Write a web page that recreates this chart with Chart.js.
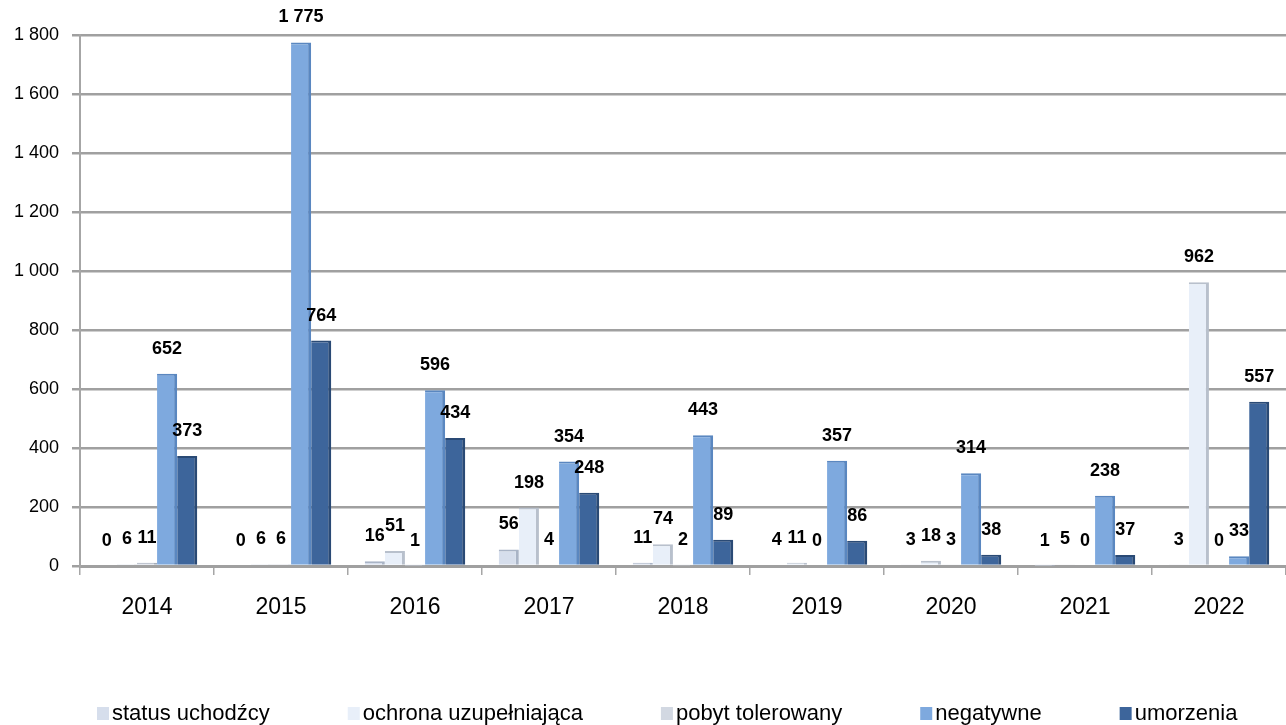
<!DOCTYPE html>
<html>
<head>
<meta charset="utf-8">
<script src="https://cdn.jsdelivr.net/npm/chart.js@4"></script>
<style>
  html, body { margin: 0; padding: 0; background: #fff; }
  #wrap { width: 1286px; height: 725px; }
</style>
</head>
<body>
<div id="wrap"><canvas id="decyzje"></canvas></div>
<script>
// lata
const years = ["2014", "2015", "2016", "2017", "2018", "2019", "2020", "2021", "2022"];

// serie danych
const statusUchodzcy = [0, 0, 16, 56, 11, 4, 3, 1, 3];
const ochronaUzup = [6, 6, 51, 198, 74, 11, 18, 5, 962];
const pobytTolerowany = [11, 6, 1, 4, 2, 0, 3, 0, 0];
const negatywne = [652, 1775, 596, 354, 443, 357, 314, 238, 33];
const umorzenia = [373, 764, 434, 248, 89, 86, 38, 37, 557];

const seriesNames = ["status uchodźcy", "ochrona uzupełniająca", "pobyt tolerowany", "negatywne", "umorzenia"];
const yTicks = [0, 200, 400, 600, 800, 1000, 1200, 1400, 1600, 1800];

const FONT = "'Liberation Sans', Arial, sans-serif";

// liczby z odstępem tysięcy: 1 775
const fmt = (v) => String(v).replace(/\B(?=(\d{3})+(?!\d))/g, " ");

const fills = ["#d6deec", "#e8eff9", "#d2d8e2", "#7ea9de", "#3d659b"];
const sides = ["#a9b4c6", "#b8c0cc", "#a3acb9", "#5a87c0", "#2a4a75"];
const values = [statusUchodzcy, ochronaUzup, pobytTolerowany, negatywne, umorzenia];

const datasets = values.map((data, i) => ({
  label: seriesNames[i],
  data: data,
  backgroundColor: fills[i],
  borderColor: sides[i],
  borderWidth: { top: 2, right: 3, left: 0, bottom: 0 },
  borderSkipped: false,
  categoryPercentage: 0.75,
  barPercentage: 1.0,
}));

// etykiety wartości nad słupkami
const valueLabels = {
  id: "valueLabels",
  afterDatasetsDraw(chart) {
    const ctx = chart.ctx;
    ctx.save();
    ctx.font = "bold 18px " + FONT;
    ctx.fillStyle = "#000";
    ctx.textAlign = "center";
    ctx.textBaseline = "bottom";
    chart.data.datasets.forEach((ds, di) => {
      const meta = chart.getDatasetMeta(di);
      meta.data.forEach((bar, i) => {
        ctx.fillText(fmt(ds.data[i]), bar.x, bar.y - 16);
      });
    });
    ctx.restore();
  }
};

// legenda na dole
const bottomLegend = {
  id: "bottomLegend",
  afterDraw(chart) {
    const ctx = chart.ctx;
    ctx.save();
    ctx.font = "22px " + FONT;
    ctx.textBaseline = "middle";
    ctx.textAlign = "left";
    let x = 97;
    const y = 713;
    chart.data.datasets.forEach((ds) => {
      ctx.fillStyle = ds.backgroundColor;
      ctx.fillRect(x, y - 6, 12, 13);
      ctx.fillStyle = "#000";
      ctx.fillText(ds.label, x + 15, y + 1);
      x += 15 + ctx.measureText(ds.label).width + 78;
    });
    ctx.restore();
  }
};

const ctx = document.getElementById("decyzje").getContext("2d");
new Chart(ctx, {
  type: "bar",
  data: { labels: years, datasets: datasets },
  options: {
    responsive: true,
    maintainAspectRatio: false,
    animation: false,
    layout: { padding: { top: 35, right: 0, bottom: 89, left: 0 } },
    plugins: {
      legend: { display: false },
      tooltip: { enabled: false },
    },
    scales: {
      x: {
        offset: true,
        grid: { drawOnChartArea: false, drawTicks: true, tickLength: 9, color: "#a6a6a6", lineWidth: 1.5 },
        border: { display: true, color: "#a0a0a0", width: 3 },
        ticks: { color: "#000", font: { family: FONT, size: 23 }, padding: 19 },
        afterFit: (s) => { s.height = 70; },
      },
      y: {
        min: 0,
        max: 1800,
        afterBuildTicks: (s) => { s.ticks = yTicks.map(v => ({ value: v })); },
        grid: { color: "#a0a0a0", lineWidth: 2.5, tickLength: 8 },
        border: { display: true, color: "#a6a6a6", width: 2 },
        ticks: { color: "#000", font: { family: FONT, size: 18 }, padding: 13, callback: (v) => fmt(v) },
        afterFit: (s) => { s.width = 80; },
      },
    },
  },
  plugins: [valueLabels, bottomLegend],
});
</script>
</body>
</html>
